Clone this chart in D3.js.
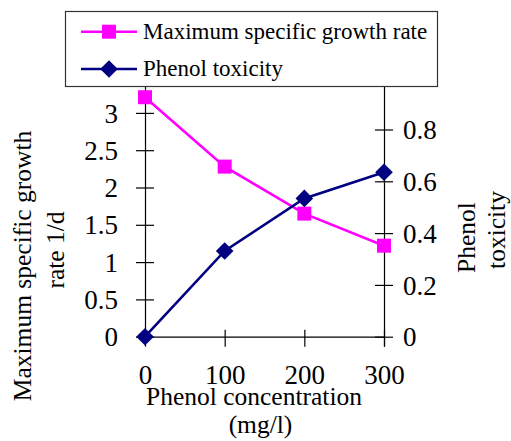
<!DOCTYPE html>
<html>
<head>
<meta charset="utf-8">
<script src="https://cdn.jsdelivr.net/npm/d3@7"></script>
</head>
<body style="margin:0;background:#fff">
<script>
// ---- data ----
const concentrations = [0, 100, 200, 300];
const growthRate = [3.21, 2.28, 1.65, 1.22];
const toxicity = [0, 0.331, 0.534, 0.635];
const xTicks = [0, 100, 200, 300];
const leftTicks = [0, 0.5, 1, 1.5, 2, 2.5, 3];
const rightTicks = [0, 0.2, 0.4, 0.6, 0.8];
const seriesNames = ["Maximum specific growth rate", "Phenol toxicity"];
const leftTitle = ["Maximum specific growth", "rate 1/d"];
const rightTitle = ["Phenol", "toxicity"];
const xTitle = ["Phenol concentration", "(mg/l)"];

const W = 511, H = 441;
const MAGENTA = "#ff00ff", NAVY = "#000080";
const FONT = "'Liberation Serif'";

const svg = d3.select("body").append("svg").attr("width", W).attr("height", H)
  .style("display", "block");

const x = d3.scaleLinear().domain([0, 300]).range([145, 384]);
const yL = d3.scaleLinear().domain([0, 3.5]).range([336.7, 75.6]);
const yR = d3.scaleLinear().domain([0, 1]).range([336.7, 77.7]);

const tickFont = 27;

// x axis
const gx = svg.append("g").attr("transform", `translate(0,${yL(0)})`)
  .call(d3.axisBottom(x).tickValues(xTicks).tickFormat(d3.format("d")).tickSize(10).tickPadding(0));
gx.selectAll(".tick line").attr("y1", -7).attr("y2", 10);
gx.selectAll(".tick text").attr("y", 0).attr("dy", "1.74em");

// left axis
const gl = svg.append("g").attr("transform", `translate(${x(0)},0)`)
  .call(d3.axisLeft(yL).tickValues(leftTicks).tickFormat(d => d3.format("")(d)).tickSize(9).tickPadding(0));
gl.selectAll(".tick line").attr("x1", 9).attr("x2", -9);
gl.selectAll(".tick text").attr("x", -27).attr("dy", "0.34em");

// right axis
const gr = svg.append("g").attr("transform", `translate(${x(300)},0)`)
  .call(d3.axisRight(yR).tickValues(rightTicks).tickFormat(d => d3.format("")(d)).tickSize(9).tickPadding(0));
gr.selectAll(".tick line").attr("x1", -9).attr("x2", 9);
gr.selectAll(".tick text").attr("x", 19).attr("dy", "0.34em");

[gx, gl, gr].forEach(g => {
  g.select(".domain").attr("stroke", "#000").attr("stroke-width", 1.2);
  g.selectAll(".tick line").attr("stroke", "#000").attr("stroke-width", 1.2);
  g.selectAll(".tick text").attr("font-size", tickFont).style("font-family", FONT).attr("fill", "#000");
});
gl.select(".domain").attr("d", `M0.5,${yL(3.5)}V${yL(0)}`);
gr.select(".domain").attr("d", `M0.5,${yR(1)}V${yR(0) + 10}`);
gx.select(".domain").attr("d", `M${x(0)},0.5H${x(300)}`);

// lines
const lineG = d3.line().x((d, i) => x(concentrations[i])).y(d => yL(d));
const lineT = d3.line().x((d, i) => x(concentrations[i])).y(d => yR(d));

svg.append("path").datum(growthRate).attr("d", lineG)
  .attr("fill", "none").attr("stroke", MAGENTA).attr("stroke-width", 2.6);
svg.append("path").datum(toxicity).attr("d", lineT)
  .attr("fill", "none").attr("stroke", NAVY).attr("stroke-width", 2.6);

const sq = 14, dm = 8.8;
function diamond(cx, cy) {
  return `M${cx},${cy - dm}L${cx + dm},${cy}L${cx},${cy + dm}L${cx - dm},${cy}Z`;
}
svg.selectAll(".sq").data(growthRate).join("rect")
  .attr("x", (d, i) => x(concentrations[i]) - sq / 2)
  .attr("y", d => yL(d) - sq / 2)
  .attr("width", sq).attr("height", sq).attr("fill", MAGENTA);
svg.selectAll(".dm").data(toxicity).join("path")
  .attr("d", (d, i) => diamond(x(concentrations[i]), yR(d)))
  .attr("fill", NAVY);

// legend
const lg = svg.append("g");
lg.append("rect").attr("x", 65.5).attr("y", 11.5).attr("width", 372).attr("height", 75)
  .attr("fill", "#fff").attr("stroke", "#333").attr("stroke-width", 1.2);
const legendRows = [
  { name: seriesNames[0], color: MAGENTA, y: 31.7, marker: "sq" },
  { name: seriesNames[1], color: NAVY, y: 69, marker: "dm" }
];
legendRows.forEach(r => {
  lg.append("line").attr("x1", 81).attr("x2", 137).attr("y1", r.y).attr("y2", r.y)
    .attr("stroke", r.color).attr("stroke-width", 2.6);
  if (r.marker === "sq") {
    lg.append("rect").attr("x", 109 - sq / 2).attr("y", r.y - sq / 2).attr("width", sq).attr("height", sq).attr("fill", r.color);
  } else {
    lg.append("path").attr("d", diamond(109, r.y)).attr("fill", r.color);
  }
  lg.append("text").attr("x", 143).attr("y", r.y).attr("dy", "0.32em")
    .attr("font-size", 23).style("font-family", FONT).text(r.name);
});

// axis titles
const titleFont = 25.5;
function title(rot, txt, x0, y0, dy) {
  const t = svg.append("text").attr("text-anchor", "middle").attr("font-size", titleFont)
    .style("font-family", FONT).text(txt);
  if (rot) t.attr("transform", `translate(${x0},${y0}) rotate(-90)`).attr("dy", dy);
  else t.attr("x", x0).attr("y", y0);
  return t;
}
title(true, leftTitle[0], 22, 266, "0.35em");
title(true, leftTitle[1], 55, 250, "0.35em");
title(true, rightTitle[0], 475, 237.5, 0);
title(true, rightTitle[1], 504.5, 230, 0);
title(false, xTitle[0], 254, 405);
title(false, xTitle[1], 260.5, 433);
</script>
</body>
</html>
